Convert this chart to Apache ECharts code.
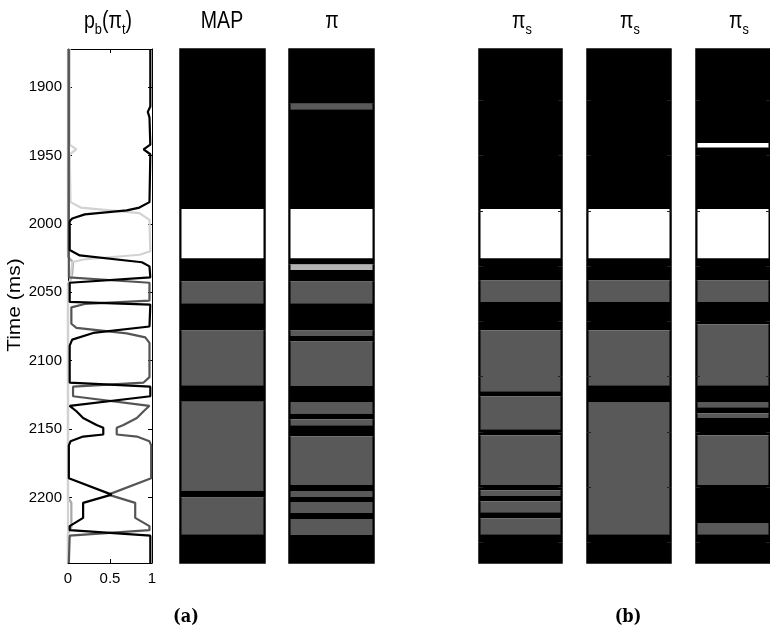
<!DOCTYPE html>
<html>
<head>
<meta charset="utf-8">
<script src="https://cdn.jsdelivr.net/npm/echarts@6/dist/echarts.min.js"></script>
<style>html,body{margin:0;padding:0;background:#fff}#c{width:770px;height:632px}</style>
</head>
<body>
<div id="c"></div>
<script>
// ---------- data ----------
const timeRange = [1872, 2248];
const timeTicks = [1900, 1950, 2000, 2050, 2100, 2150, 2200];
const probTicks = [0, 0.5, 1];
const sampleTicks = [1909.6, 1950, 1990.4, 2030.8, 2071.2, 2111.6, 2152, 2192.4, 2232.8];

// probability curves p_b(pi_t): time (ms) and probability
const blackT = [1872,1914,1918,1922,1942,1945.5,1949,1984,1988,1990,1993,1996,1998,2019,2023,2028,2031,2039,2043,2057,2059,2075,2079.7,2084.6,2089,2116,2119,2126,2133,2137,2142,2147,2149,2154,2155.5,2159,2162,2186,2198,2204,2215,2221,2224,2228,2248];
const blackP = [0.98,0.98,0.95,0.97,0.98,0.9,0.98,0.97,0.85,0.7,0.2,0.05,0.02,0.02,0.14,0.88,0.97,0.98,0.02,0.02,0.98,0.97,0.3,0.05,0.02,0.02,0.98,0.98,0.02,0.1,0.18,0.34,0.42,0.42,0.18,0.03,0.01,0.01,0.52,0.18,0.18,0.02,0.02,0.98,0.98];
const grayT = [1872,1984,2039,2043,2056,2058.5,2061,2073,2076,2080,2083,2087,2112,2116,2119,2126,2133,2137,2142,2147,2149,2154,2155.5,2159,2162,2186,2198,2204,2215,2221,2224,2228,2248];
const grayP = [0.01,0.01,0.01,0.97,0.97,0.2,0.04,0.04,0.1,0.7,0.92,0.97,0.97,0.9,0.06,0.06,0.97,0.9,0.82,0.66,0.58,0.58,0.82,0.97,0.99,0.99,0.48,0.8,0.8,0.97,0.97,0.02,0.01];
const whiteT = [1872,1942,1945.5,1949,1984,1988,1992,1997,2020,2022.5,2026,2028,2040,2046,2248];
const whiteP = [0.02,0.02,0.1,0.02,0.03,0.15,0.85,0.97,0.98,0.85,0.18,0.05,0.03,0.0,0.0];
const lightT = [1872,2024,2028,2036,2041,2044,2200,2204,2222,2226,2248];
const lightP = [0.0,0.0,0.06,0.05,0.03,0.0,0.0,0.04,0.04,0.0,0.0];

// facies columns: segment boundaries (ms) and facies code per segment
// codes: 0 = black, 1 = dark gray, 2 = light gray, 3 = white
const mapBounds = [1872,1989,2025,2042,2058,2078,2118,2130,2195,2200,2227,2248];
const mapFacies = [0,3,0,1,0,1,0,1,0,1,0];
const piBounds = [1872,1912,1916,1989,2025,2029.6,2033.7,2042,2058,2078,2082,2086,2118.5,2130.3,2138.6,2142.8,2147.2,2155.2,2191,2195.3,2199.7,2203.4,2211.5,2215.9,2227.6,2248];
const piFacies = [0,1,0,3,0,2,0,1,0,1,0,1,0,1,0,1,0,1,0,1,0,1,0,1,0];
const ps1Bounds = [1872,1989,2025,2041.3,2057,2077.7,2122.3,2126,2150.1,2154.5,2191,2194.7,2199,2202.8,2210.8,2215.2,2226.9,2248];
const ps1Facies = [0,3,0,1,0,1,0,1,0,1,0,1,0,1,0,1,0];
const ps2Bounds = [1872,1989,2025,2041.3,2057,2077.7,2118,2130.3,2226.9,2248];
const ps2Facies = [0,3,0,1,0,1,0,1,0];
const ps3Bounds = [1872,1940.7,1944,1989,2025,2041.3,2057,2073.4,2118,2130.3,2134,2138.4,2142,2154.5,2191,2218.8,2226.9,2248];
const ps3Facies = [0,3,0,3,0,1,0,1,0,1,0,1,0,1,0,1,0];

// ---------- styles ----------
const faciesColors = ['#000000', '#595959', '#b4b4b4', '#ffffff'];
const FONT = 'Liberation Sans, Arial, sans-serif';

const chart = echarts.init(document.getElementById('c'), null, {renderer: 'canvas'});

const colGrids = [
  {left: 180, width: 85},
  {left: 289, width: 85},
  {left: 479, width: 83},
  {left: 587, width: 84},
  {left: 696, width: 84}
];
const grids = [{left: 68, top: 49, width: 84, height: 514}].concat(
  colGrids.map(g => ({left: g.left, top: 49, width: g.width, height: 514, show: true,
    borderColor: '#000', borderWidth: 1.5, backgroundColor: 'transparent'})));

const xAxes = [
  {gridIndex: 0, type: 'value', min: 0, max: 1, position: 'bottom',
   axisLine: {onZero: false, lineStyle: {color: '#000', width: 1}},
   axisTick: {inside: true, length: 4, customValues: probTicks, lineStyle: {color: '#000'}},
   axisLabel: {customValues: probTicks, color: '#000', fontFamily: FONT, fontSize: 15, margin: 8,
     formatter: v => String(v)},
   splitLine: {show: false}},
  {gridIndex: 0, type: 'value', min: 0, max: 1, position: 'top',
   axisLine: {onZero: false, lineStyle: {color: '#000', width: 1}},
   axisTick: {inside: true, length: 4, customValues: probTicks, lineStyle: {color: '#000'}},
   axisLabel: {show: false}, splitLine: {show: false}}
];
const colXAxis = [];
colGrids.forEach((g, i) => {
  colXAxis.push(xAxes.length);
  xAxes.push({gridIndex: i + 1, type: 'value', min: 0, max: 1, show: false});
});

const yAxes = [
  {gridIndex: 0, type: 'value', inverse: true, min: timeRange[0], max: timeRange[1], position: 'left',
   axisLine: {show: true, onZero: false, lineStyle: {color: '#000', width: 1}},
   axisTick: {show: true, inside: true, length: 4, customValues: timeTicks, lineStyle: {color: '#000'}},
   axisLabel: {customValues: timeTicks, color: '#000', fontFamily: FONT, fontSize: 15, margin: 6,
     formatter: v => String(v)},
   splitLine: {show: false}},
  {gridIndex: 0, type: 'value', inverse: true, min: timeRange[0], max: timeRange[1], position: 'right',
   axisLine: {show: true, onZero: false, lineStyle: {color: '#000', width: 1}},
   axisTick: {show: true, inside: true, length: 4, customValues: timeTicks, lineStyle: {color: '#000'}},
   axisLabel: {show: false}, splitLine: {show: false}}
];
const colYAxis = [];
colGrids.forEach((g, i) => {
  colYAxis.push(yAxes.length);
  if (i < 2) {
    yAxes.push({gridIndex: i + 1, type: 'value', inverse: true, min: timeRange[0], max: timeRange[1], show: false});
  } else {
    ['left', 'right'].forEach(pos => yAxes.push({
      gridIndex: i + 1, type: 'value', inverse: true, min: timeRange[0], max: timeRange[1], position: pos, z: 10,
      axisLine: {show: false},
      axisTick: {show: true, inside: true, length: 4, customValues: sampleTicks, lineStyle: {color: '#222', width: 1}},
      axisLabel: {show: false}, splitLine: {show: false}}));
  }
});

function curve(T, P, color, width) {
  return {type: 'line', xAxisIndex: 0, yAxisIndex: 0, data: T.map((t, i) => [P[i], t]),
    showSymbol: false, symbol: 'none', silent: true, animation: false,
    lineStyle: {color: color, width: width}};
}

function renderFacies(params, api) {
  const cs = params.coordSys;
  const top = api.coord([0, api.value(0)])[1];
  const bot = api.coord([0, api.value(1)])[1];
  const f = api.value(2);
  const xl = cs.x + 0.75, xr = cs.x + cs.width - 0.75;
  return {type: 'group', children: [
    {type: 'rect', shape: {x: cs.x, y: top, width: cs.width, height: bot - top},
     style: {fill: faciesColors[f]}},
    {type: 'line', shape: {x1: xl, y1: top, x2: xl, y2: bot}, style: {stroke: '#000', lineWidth: 1.5}},
    {type: 'line', shape: {x1: xr, y1: top, x2: xr, y2: bot}, style: {stroke: '#000', lineWidth: 1.5}}
  ]};
}

function column(i, bounds, facies) {
  return {type: 'custom', coordinateSystem: 'cartesian2d', xAxisIndex: colXAxis[i], yAxisIndex: colYAxis[i],
    silent: true, animation: false, clip: false,
    data: facies.map((f, k) => [bounds[k], bounds[k + 1], f]),
    renderItem: renderFacies};
}

const subRich = {
  n: {fontFamily: FONT, fontSize: 23, lineHeight: 30, fill: '#000', color: '#000'},
  s: {fontFamily: FONT, fontSize: 15, lineHeight: 13, verticalAlign: 'bottom', fill: '#000', color: '#000'}
};
function title(x, text) {
  return {type: 'text', x: x, y: 22, scaleX: 0.85, silent: true,
    style: {x: 0, y: 0, text: text, rich: subRich, textAlign: 'center', textVerticalAlign: 'middle',
      verticalAlign: 'middle', fill: '#000'}};
}

const option = {
  animation: false,
  backgroundColor: '#fff',
  grid: grids,
  xAxis: xAxes,
  yAxis: yAxes,
  series: [
    curve(lightT, lightP, '#a8a8a8', 2.2),
    curve(whiteT, whiteP, '#d2d2d2', 2.2),
    curve(grayT, grayP, '#555555', 2.2),
    curve(blackT, blackP, '#000000', 2.2),
    column(0, mapBounds, mapFacies),
    column(1, piBounds, piFacies),
    column(2, ps1Bounds, ps1Facies),
    column(3, ps2Bounds, ps2Facies),
    column(4, ps3Bounds, ps3Facies)
  ],
  graphic: [
    title(108, '{n|p}{s|b}{n|(π}{s|t}{n|)}'),
    title(222, '{n|MAP}'),
    title(332, '{n|π}'),
    title(522, '{n|π}{s|s}'),
    title(630, '{n|π}{s|s}'),
    title(739, '{n|π}{s|s}'),
    {type: 'text', x: 15, y: 305, rotation: Math.PI / 2, scaleY: 0.85, silent: true,
     style: {x: 0, y: 0, text: 'Time (ms)', font: '21px ' + FONT, fill: '#000',
       textAlign: 'center', textVerticalAlign: 'middle', verticalAlign: 'middle'}},
    {type: 'text', x: 186, y: 617, scaleX: 0.9, silent: true,
     style: {x: 0, y: 0, text: '(a)', font: 'bold 18px "DejaVu Serif", serif', fill: '#000',
       textAlign: 'center', textVerticalAlign: 'middle', verticalAlign: 'middle'}},
    {type: 'text', x: 628, y: 617, scaleX: 0.9, silent: true,
     style: {x: 0, y: 0, text: '(b)', font: 'bold 18px "DejaVu Serif", serif', fill: '#000',
       textAlign: 'center', textVerticalAlign: 'middle', verticalAlign: 'middle'}}
  ]
};
chart.setOption(option);
</script>
</body>
</html>
